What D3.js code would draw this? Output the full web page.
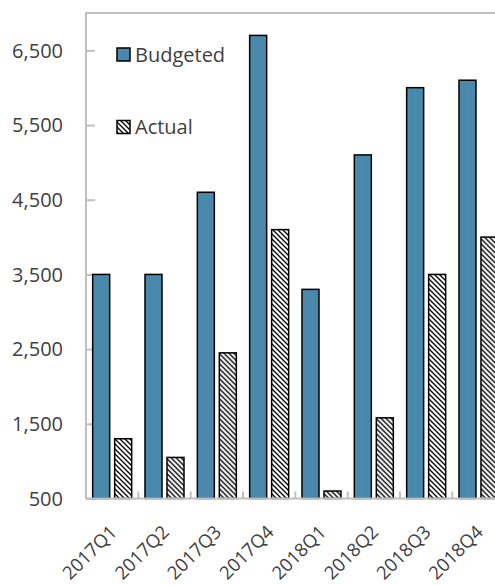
<!DOCTYPE html>
<html>
<head>
<meta charset="utf-8">
<script src="https://cdn.jsdelivr.net/npm/d3@7/dist/d3.min.js"></script>
<style>
  html, body { margin: 0; padding: 0; background: #fff; }
  svg { display: block; font-family: "Open Sans", "Noto Sans", sans-serif; }
</style>
</head>
<body>
<svg id="chart" width="495" height="585"></svg>
<script>
// Quarterly budget vs. actual figures
const quarters = ["2017Q1", "2017Q2", "2017Q3", "2017Q4", "2018Q1", "2018Q2", "2018Q3", "2018Q4"];
const budgeted = [3500, 3500, 4600, 6700, 3300, 5100, 6000, 6100];
const actual   = [1300, 1050, 2450, 4100, 600, 1580, 3500, 4000];
const seriesNames = ["Budgeted", "Actual"];
const yTicks = [500, 1500, 2500, 3500, 4500, 5500, 6500];

const svg = d3.select("#chart");
const W = 495, H = 585;
const plot = { left: 86, top: 13, bottom: 498.5, catWidth: 52.33 };
const textColor = "#404040";
const axisColor = "#bfbfbf";
const fontSize = 20;
const xLabelSize = 18.5;

// Fill patterns: dotted blue for Budgeted, diagonal hatch for Actual
const defs = svg.append("defs");
const dots = defs.append("pattern")
  .attr("id", "dotBlue").attr("patternUnits", "userSpaceOnUse")
  .attr("width", 8).attr("height", 8);
dots.append("rect").attr("width", 8).attr("height", 8).attr("fill", "#4a89ac");
dots.append("rect").attr("x", 3).attr("y", 3).attr("width", 1).attr("height", 1).attr("fill", "#3f7ca0");

const hatch = defs.append("pattern")
  .attr("id", "hatch").attr("patternUnits", "userSpaceOnUse")
  .attr("width", 5).attr("height", 5);
hatch.append("rect").attr("width", 5).attr("height", 5).attr("fill", "#fff");
hatch.append("path").attr("d", "M-1,-1 L6,6 M-1,4 L1,6 M4,-1 L6,1")
  .attr("stroke", "#000").attr("stroke-width", 1.3);

const fills = { Budgeted: "url(#dotBlue)", Actual: "url(#hatch)" };

// Scales
const x0 = d3.scaleBand()
  .domain(quarters)
  .range([plot.left, plot.left + plot.catWidth * quarters.length])
  .paddingInner(0).paddingOuter(0);

const x1 = d3.scaleBand()
  .domain(seriesNames)
  .range([0, x0.bandwidth()])
  .paddingInner(0.227).paddingOuter(0.303);

const y = d3.scaleLinear().domain([500, 7000]).range([plot.bottom, plot.top]);

// Plot area frame (top and left edges; right side runs off the canvas)
svg.append("line")
  .attr("x1", plot.left).attr("x2", W + 10)
  .attr("y1", plot.top).attr("y2", plot.top)
  .attr("stroke", axisColor).attr("stroke-width", 2);

// Y axis
const yAxis = svg.append("g")
  .attr("transform", `translate(${plot.left},0)`)
  .call(d3.axisRight(y).tickValues(yTicks).tickSize(9).tickFormat(""));
yAxis.select(".domain").remove();
yAxis.selectAll(".tick line").attr("stroke", axisColor).attr("stroke-width", 2);
svg.append("line")
  .attr("x1", plot.left).attr("x2", plot.left)
  .attr("y1", plot.top - 1).attr("y2", plot.bottom)
  .attr("stroke", axisColor).attr("stroke-width", 2);

svg.append("g").selectAll("text")
  .data(yTicks).join("text")
  .attr("x", 63).attr("y", d => y(d))
  .attr("dy", "0.36em")
  .attr("text-anchor", "end")
  .attr("fill", textColor)
  .attr("font-size", fontSize)
  .text(d => d3.format(",")(d));

// Bars
const rows = quarters.map((q, i) => ({ q, values: [
  { key: "Budgeted", value: budgeted[i] },
  { key: "Actual", value: actual[i] }
]}));

const groups = svg.append("g").selectAll("g")
  .data(rows).join("g")
  .attr("transform", d => `translate(${x0(d.q)},0)`);

groups.selectAll("rect")
  .data(d => d.values).join("rect")
  .attr("x", d => x1(d.key))
  .attr("width", x1.bandwidth())
  .attr("y", d => y(d.value))
  .attr("height", d => y(500) - y(d.value))
  .attr("fill", d => fills[d.key])
  .attr("stroke", "#000")
  .attr("stroke-width", 1.5);

// X axis with boundary ticks
const boundaries = d3.range(quarters.length + 1).map(i => plot.left + i * plot.catWidth);
svg.append("line")
  .attr("x1", plot.left).attr("x2", W + 10)
  .attr("y1", plot.bottom).attr("y2", plot.bottom)
  .attr("stroke", axisColor).attr("stroke-width", 2);
svg.append("g").selectAll("line")
  .data(boundaries).join("line")
  .attr("x1", d => d).attr("x2", d => d)
  .attr("y1", plot.bottom).attr("y2", plot.bottom - 7)
  .attr("stroke", axisColor).attr("stroke-width", 2);

svg.append("g").selectAll("text")
  .data(quarters).join("text")
  .attr("transform", d => `translate(${x0(d) + x0.bandwidth() / 2 + 1},${plot.bottom + 30}) rotate(-45)`)
  .attr("text-anchor", "end")
  .attr("dy", "0.36em")
  .attr("fill", textColor)
  .attr("font-size", xLabelSize)
  .text(d => d);

// Legend
const legend = svg.append("g");
const legendItems = [
  { key: "Budgeted", y: 54.5 },
  { key: "Actual", y: 127 }
];
legendItems.forEach(item => {
  legend.append("rect")
    .attr("x", 117).attr("y", item.y - 6.5)
    .attr("width", 13).attr("height", 13)
    .attr("fill", fills[item.key])
    .attr("stroke", "#000").attr("stroke-width", 1.5);
  legend.append("text")
    .attr("x", 135).attr("y", item.y)
    .attr("dy", "0.36em")
    .attr("fill", textColor)
    .attr("font-size", fontSize)
    .text(item.key);
});
</script>
</body>
</html>
